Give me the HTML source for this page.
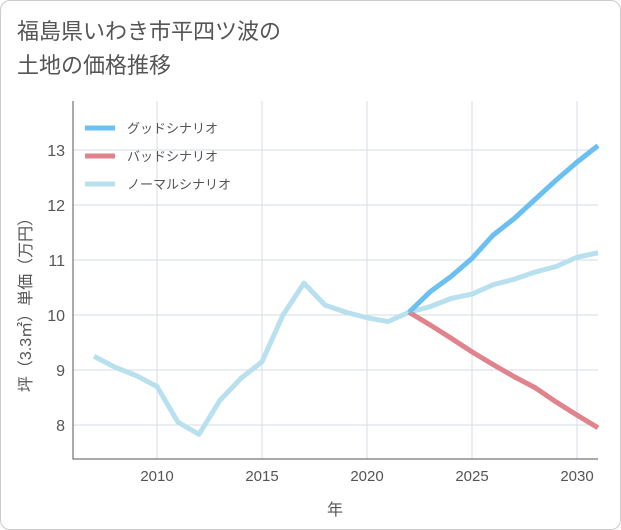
<!DOCTYPE html>
<html><head><meta charset="utf-8"><style>
body{margin:0;background:#fff;}
#wrap{position:relative;width:619px;height:528px;border:1px solid #ccc;border-radius:10px;background:#fff;overflow:hidden;}
#title{position:absolute;left:16px;top:14px;font:22px "Liberation Sans","Noto Sans CJK JP",sans-serif;color:#555;line-height:34px;}
svg{position:absolute;left:0;top:0;}
text{font-family:"Liberation Sans","Noto Sans CJK JP",sans-serif;}
</style></head><body>
<div id="wrap">
<div id="title">福島県いわき市平四ツ波の<br>土地の価格推移</div>
<svg id="chart" width="621" height="530"></svg>
</div>
<script>
const years=[2007,2008,2009,2010,2011,2012,2013,2014,2015,2016,2017,2018,2019,2020,2021,2022,2023,2024,2025,2026,2027,2028,2029,2030,2031];
const normalVals=[9.25,9.05,8.9,8.7,8.05,7.83,8.45,8.85,9.15,10.0,10.58,10.18,10.05,9.95,9.88,10.05,10.15,10.3,10.38,10.55,10.65,10.78,10.88,11.05,11.13];
const futureYears=[2022,2023,2024,2025,2026,2027,2028,2029,2030,2031];
const goodVals=[10.05,10.42,10.7,11.03,11.45,11.75,12.1,12.45,12.78,13.08];
const badVals=[10.05,9.82,9.58,9.33,9.1,8.88,8.68,8.42,8.18,7.95];
const xTicks=[2010,2015,2020,2025,2030];
const yTicks=[8,9,10,11,12,13];
const legendLabels=["グッドシナリオ","バッドシナリオ","ノーマルシナリオ"];
const colors=["#6cbff2","#e0838c","#b9e0ee"];
const L=72,R=597,T=100,B=458;
const x=v=>156+(v-2010)*21;
const y=v=>149+(13-v)*55;
const svg=document.getElementById('chart');
const NS='http://www.w3.org/2000/svg';
function mk(tag,attrs,parent){const e=document.createElementNS(NS,tag);for(const k in attrs)e.setAttribute(k,attrs[k]);(parent||svg).appendChild(e);return e;}
xTicks.forEach(t=>{
 const g=mk('line',{x1:x(t),x2:x(t),y1:T,y2:B,stroke:'#d5dde5','stroke-width':1});
 
 
 const tx=mk('text',{x:x(t),y:B+22,'text-anchor':'middle','font-size':15,fill:'#555'});tx.textContent=t;
 
 
});
yTicks.forEach(t=>{
 const g=mk('line',{x1:L,x2:R,y1:y(t),y2:y(t),stroke:'#d5dde5','stroke-width':1});
 
 
 const tx=mk('text',{x:L-8,y:y(t)+6,'text-anchor':'end','font-size':16,fill:'#555'});tx.textContent=t;
 
 
});
const ax=mk('path',{d:`M${L},${T}V${B}H${R}`,stroke:'#555',fill:'none','stroke-width':1});


function line(xs,vs,c,name){
 const p=mk('polyline',{points:xs.map((v,i)=>x(v)+','+y(vs[i])).join(' '),fill:'none',stroke:c,'stroke-width':5,'stroke-linejoin':'round'});
 
 
}
line(years,normalVals,colors[2],'normal-scenario-line');
line(futureYears,badVals,colors[1],'bad-scenario-line');
line(futureYears,goodVals,colors[0],'good-scenario-line');
legendLabels.forEach((lab,i)=>{
 const yy=127+i*28;
 const l=mk('line',{x1:84,x2:114,y1:yy,y2:yy,stroke:colors[i],'stroke-width':5});
 
 
 const t=mk('text',{x:126,y:yy+5,'font-size':13,fill:'#555'});t.textContent=lab;
 
 
});
const xt=mk('text',{x:334,y:514,'text-anchor':'middle','font-size':16,fill:'#555'});xt.textContent='年';


const yt=mk('text',{x:0,y:0,'text-anchor':'middle','font-size':16,fill:'#555',transform:'translate(30,300) rotate(-90)'});yt.textContent='坪（3.3㎡）単価（万円）';


</script>
</body></html>
